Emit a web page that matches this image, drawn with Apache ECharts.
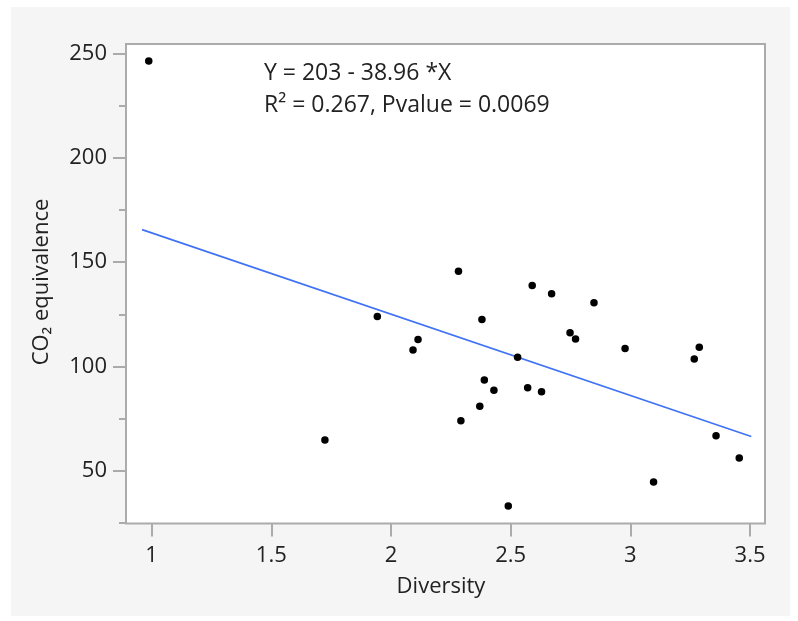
<!DOCTYPE html>
<html>
<head>
<meta charset="utf-8">
<script src="https://cdn.jsdelivr.net/npm/echarts@6/dist/echarts.min.js"></script>
<style>
html,body{margin:0;padding:0;background:#ffffff;}
#chart{width:798px;height:621px;}
</style>
</head>
<body>
<div id="chart"></div>
<script>
// ---- data ----
const diversity = [0.988, 1.724, 1.943, 2.092, 2.113, 2.282, 2.292, 2.371, 2.380, 2.390, 2.430, 2.490, 2.529, 2.571, 2.590, 2.629, 2.671, 2.748, 2.771, 2.848, 2.978, 3.097, 3.267, 3.288, 3.358, 3.455];
const co2 = [246.5, 64.7, 123.9, 107.9, 112.9, 145.7, 74.0, 80.9, 122.5, 93.5, 88.6, 33.1, 104.4, 89.8, 138.8, 87.9, 134.8, 116.2, 113.2, 130.6, 108.6, 44.6, 103.6, 109.2, 66.8, 56.1];
const fitIntercept = 203;
const fitSlope = -38.96;
const fitRange = [0.96, 3.505];
const xTicks = [1, 1.5, 2, 2.5, 3, 3.5];
const yTicks = [50, 100, 150, 200, 250];
const yMinorTicks = [25, 75, 125, 175, 225];
const xRange = [0.893, 3.5625];
const yRange = [24.7, 254.6];
const eqLine1 = 'Y = 203 - 38.96 *X';
const eqLine2 = 'R\u00B2 = 0.267, Pvalue = 0.0069';
const xTitle = 'Diversity';
const yTitle = 'CO\u2082 equivalence';

const points = diversity.map((x, i) => [x, co2[i]]);
const fitLine = fitRange.map(x => [x, fitIntercept + fitSlope * x]);

const FONT = '"Open Sans", "Noto Sans", "DejaVu Sans", sans-serif';
const TXT = '#222222';
const AX = '#ababab';

const chart = echarts.init(document.getElementById('chart'), null, {renderer: 'canvas'});
chart.setOption({
  animation: false,
  backgroundColor: '#ffffff',
  textStyle: {fontFamily: FONT},
  graphic: [
    {type: 'rect', z: -10, silent: true, shape: {x: 11, y: 7, width: 779, height: 609}, style: {fill: '#f5f5f5'}},
    {type: 'rect', z: -9, silent: true, shape: {x: 126, y: 44, width: 639, height: 479.5}, style: {fill: '#ffffff'}},
    {type: 'text', z: 10, left: 264, top: 62, style: {text: eqLine1, font: '23px ' + FONT, fill: TXT}},
    {type: 'text', z: 10, left: 264, top: 94, style: {text: eqLine2, font: '23px ' + FONT, fill: TXT}},
    {type: 'text', z: 10, x: 441, y: 587, style: {text: xTitle, font: '22px ' + FONT, fill: TXT, align: 'center', verticalAlign: 'middle'}},
    {type: 'text', z: 10, x: 42, y: 282, rotation: Math.PI / 2, style: {text: yTitle, font: '22px ' + FONT, fill: TXT, align: 'center', verticalAlign: 'middle'}}
  ],
  grid: {left: 126, top: 44, right: 33, bottom: 97.5, show: true, borderColor: AX, borderWidth: 2, backgroundColor: 'transparent'},
  xAxis: {
    type: 'value', min: xRange[0], max: xRange[1],
    axisLine: {show: false},
    splitLine: {show: false},
    axisTick: {show: true, length: 13, customValues: xTicks, lineStyle: {color: AX, width: 2}},
    axisLabel: {customValues: xTicks, margin: 21, fontSize: 22, color: TXT, fontFamily: FONT, formatter: v => String(v)}
  },
  yAxis: [
    {
      type: 'value', min: yRange[0], max: yRange[1],
      axisLine: {show: false},
      splitLine: {show: false},
      axisTick: {show: true, length: 13, customValues: yTicks, lineStyle: {color: AX, width: 2}},
      axisLabel: {customValues: yTicks, margin: 19, fontSize: 22, color: TXT, fontFamily: FONT}
    },
    {
      type: 'value', min: yRange[0], max: yRange[1], position: 'left',
      axisLine: {show: false},
      splitLine: {show: false},
      axisTick: {show: true, length: 7, customValues: yMinorTicks, lineStyle: {color: AX, width: 2}},
      axisLabel: {show: false}
    }
  ],
  series: [
    {type: 'line', data: fitLine, showSymbol: false, symbol: 'none', lineStyle: {color: '#3f72f5', width: 1.6}, z: 2},
    {type: 'scatter', data: points, symbol: 'circle', symbolSize: 7.5, itemStyle: {color: '#000000', opacity: 1}, z: 3}
  ]
});
</script>
</body>
</html>
